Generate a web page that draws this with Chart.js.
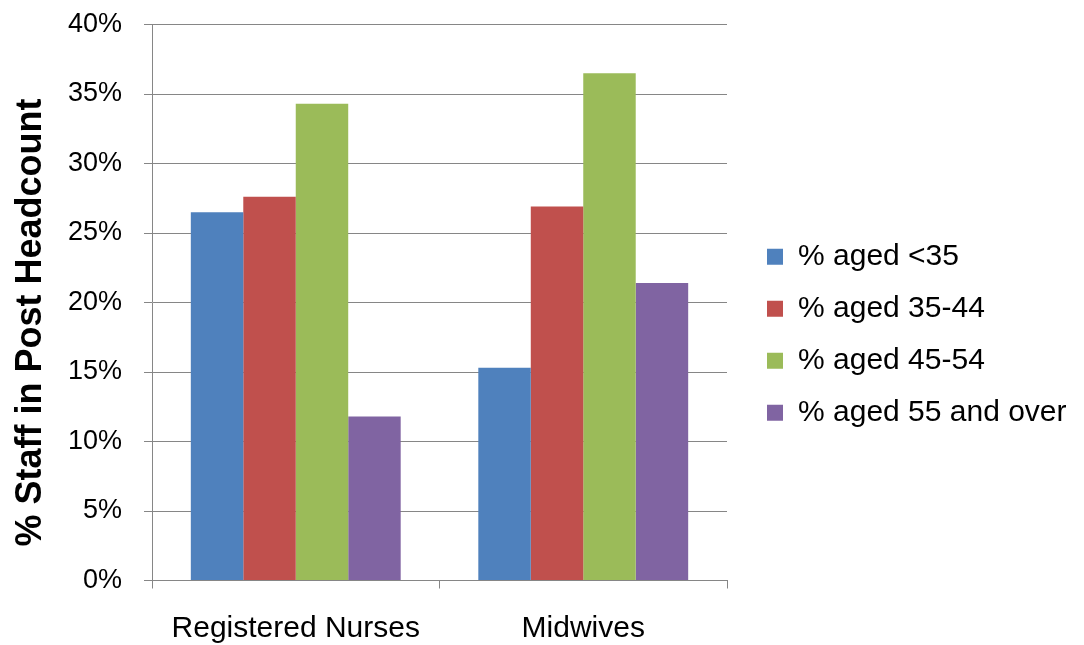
<!DOCTYPE html>
<html>
<head>
<meta charset="utf-8">
<script src="https://cdn.jsdelivr.net/npm/chart.js@4"></script>
<style>
  html, body { margin: 0; padding: 0; background: #fff; }
  #wrap { width: 1084px; height: 645px; }
</style>
</head>
<body>
<div id="wrap"><canvas id="staffChart" width="1084" height="645"></canvas></div>
<script>
const categories = ['Registered Nurses', 'Midwives'];
const seriesLabels = ['% aged <35', '% aged 35-44', '% aged 45-54', '% aged 55 and over'];
const agedUnder35 = [26.5, 15.3];
const aged35to44 = [27.6, 26.9];
const aged45to54 = [34.3, 36.5];
const aged55over = [11.8, 21.4];
const seriesColors = ['#4F81BD', '#C0504D', '#9BBB59', '#8064A2'];

const gridGrey = '#868686';
const fontFamily = '"Liberation Sans", Arial, sans-serif';

// fixed legend width so the plot ends where the original does,
// then nudge it right so the boxes line up; the y title sits a bit low in the original
const layoutFix = {
    id: 'layoutFix',
    beforeLayout(chart) {
        const lg = chart.legend;
        if (lg && !lg._wide) {
            const fit = lg.fit.bind(lg);
            lg.fit = function () { fit(); this.width = 357; };
            lg._wide = true;
        }
    },
    afterLayout(chart) {
        const lg = chart.legend;
        lg.left += 18;
        lg.right += 18;
        const ys = chart.scales.y;
        if (!ys._titleMoved) {
            const drawTitle = ys.drawTitle.bind(ys);
            ys.drawTitle = function () {
                const c = this.ctx;
                c.save();
                c.translate(0, 20);
                drawTitle();
                c.restore();
            };
            ys._titleMoved = true;
        }
    }
};

const ctx = document.getElementById('staffChart').getContext('2d');
new Chart(ctx, {
    type: 'bar',
    data: {
        labels: categories,
        datasets: [agedUnder35, aged35to44, aged45to54, aged55over].map((vals, i) => ({
            label: seriesLabels[i],
            data: vals,
            backgroundColor: seriesColors[i],
            borderWidth: 0,
            categoryPercentage: 0.73,
            barPercentage: 1.0
        }))
    },
    options: {
        responsive: false,
        animation: false,
        layout: { padding: { top: 24.5, right: 0, left: 0, bottom: 0 } },
        plugins: {
            tooltip: { enabled: false },
            legend: {
                position: 'right',
                labels: {
                    color: '#000',
                    font: { family: fontFamily, size: 30, lineHeight: 1 },
                    boxWidth: 16,
                    boxHeight: 16,
                    padding: 22
                }
            }
        },
        scales: {
            x: {
                grid: {
                    drawOnChartArea: false,
                    color: gridGrey,
                    tickLength: 8
                },
                border: { color: gridGrey },
                ticks: {
                    color: '#000',
                    padding: 22,
                    font: { family: fontFamily, size: 30 }
                },
                afterFit(scale) { scale.height = 64.5; }
            },
            y: {
                min: 0,
                max: 40,
                ticks: {
                    stepSize: 5,
                    color: '#000',
                    padding: 22,
                    font: { family: fontFamily, size: 27 },
                    callback: v => v + '%'
                },
                grid: { color: gridGrey, tickLength: 8 },
                border: { color: gridGrey },
                title: {
                    display: true,
                    text: '% Staff in Post Headcount',
                    color: '#000',
                    padding: { top: 13, bottom: 0 },
                    font: { family: fontFamily, size: 36, weight: 'bold', lineHeight: 1 }
                },
                afterFit(scale) {
                    scale.width = 152;
                    scale.paddingTop = 0;
                    scale.paddingBottom = 0;
                }
            }
        }
    },
    plugins: [layoutFix]
});
</script>
</body>
</html>
